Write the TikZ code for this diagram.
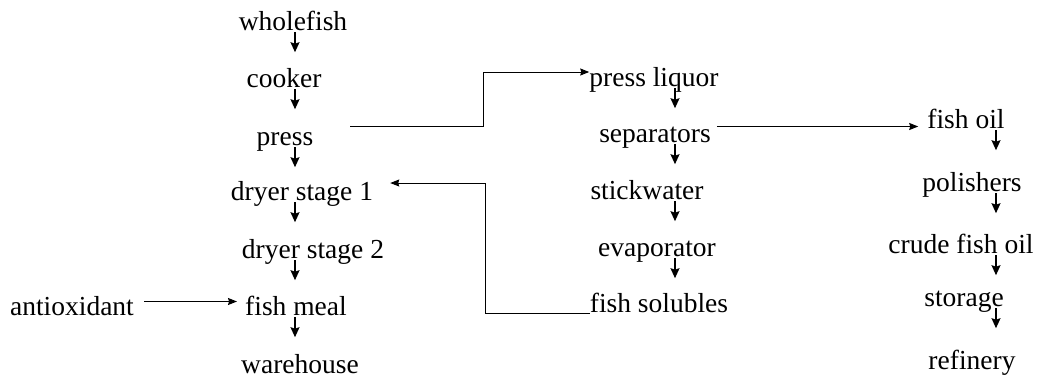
\documentclass[tikz,border=0pt]{standalone}
\usepackage{fontspec}
\setmainfont{Liberation Serif}
\usetikzlibrary{arrows.meta,calc}
\begin{document}
\begin{tikzpicture}[x=1pt,y=-1pt,
  lbl/.style={inner sep=0pt, text height=0.7em, text depth=0.2em, anchor=base,
              font=\fontsize{27.5}{30}\selectfont},
  down/.style={line width=1.5pt, -{Stealth[length=10pt,width=9pt,inset=1.5pt]}},
  conn/.style={line width=1pt, -{Stealth[length=9pt,width=7pt,inset=1pt]}}]
\useasboundingbox (0,0) rectangle (1053,381);

% fish meal line
\node[lbl] (wf) at (293,30)  {wholefish};
\node[lbl] (ck) at (284,87)  {cooker};
\node[lbl] (pr) at (285,145) {press};
\node[lbl] (d1) at (302,200) {dryer stage 1};
\node[lbl] (d2) at (313,258) {dryer stage 2};
\node[lbl] (fm) at (296,315) {fish meal};
\node[lbl] (wh) at (300,373) {warehouse};
\node[lbl] (ao) at (72,315)  {antioxidant};

% press liquor line
\node[lbl] (pl) at (654,86)  {press liquor};
\node[lbl] (sp) at (655,142) {separators};
\node[lbl] (sw) at (647,199) {stickwater};
\node[lbl] (ev) at (657,256) {evaporator};
\node[lbl] (fs) at (659,312) {fish solubles};

% fish oil line
\node[lbl] (fo) at (966,128) {fish oil};
\node[lbl] (po) at (972,191) {polishers};
\node[lbl] (cf) at (961,253) {crude fish oil};
\node[lbl] (st) at (964,306) {storage};
\node[lbl] (rf) at (972,369) {refinery};

% x positions of the short downward arrows in each column
\coordinate (cL) at (295,0);
\coordinate (cM) at (675,0);
\coordinate (cR) at (996,0);

\newcommand\vstep[3]{\draw[down] (#1.south -| #3) -- ($(#1.south -| #3)!20pt!(#2.north -| #3)$);}
\vstep{wf}{ck}{cL}
\vstep{ck}{pr}{cL}
\vstep{pr}{d1}{cL}
\vstep{d1}{d2}{cL}
\vstep{d2}{fm}{cL}
\vstep{fm}{wh}{cL}

\vstep{pl}{sp}{cM}
\vstep{sp}{sw}{cM}
\vstep{sw}{ev}{cM}
\vstep{ev}{fs}{cM}

\vstep{fo}{po}{cR}
\vstep{po}{cf}{cR}
\vstep{cf}{st}{cR}
\vstep{st}{rf}{cR}

% cross connections
\coordinate (j1) at (483,72);
\draw[conn] ([xshift=37pt,yshift=16pt]pr.east) -| (j1) -- (j1 -| pl.west);

\coordinate (s1) at ([xshift=6pt,yshift=13pt]sp.east);
\draw[conn, shorten >=9pt] (s1) -- (s1 -| fo.west);

\coordinate (j2) at (485,183);
\draw[conn, shorten >=17pt] ([yshift=-4pt]fs.west) -| (j2) -- (j2 -| d1.east);

\coordinate (s2) at ([xshift=10pt,yshift=11pt]ao.east);
\draw[conn, shorten >=8pt] (s2) -- (s2 -| fm.west);
\end{tikzpicture}
\end{document}
